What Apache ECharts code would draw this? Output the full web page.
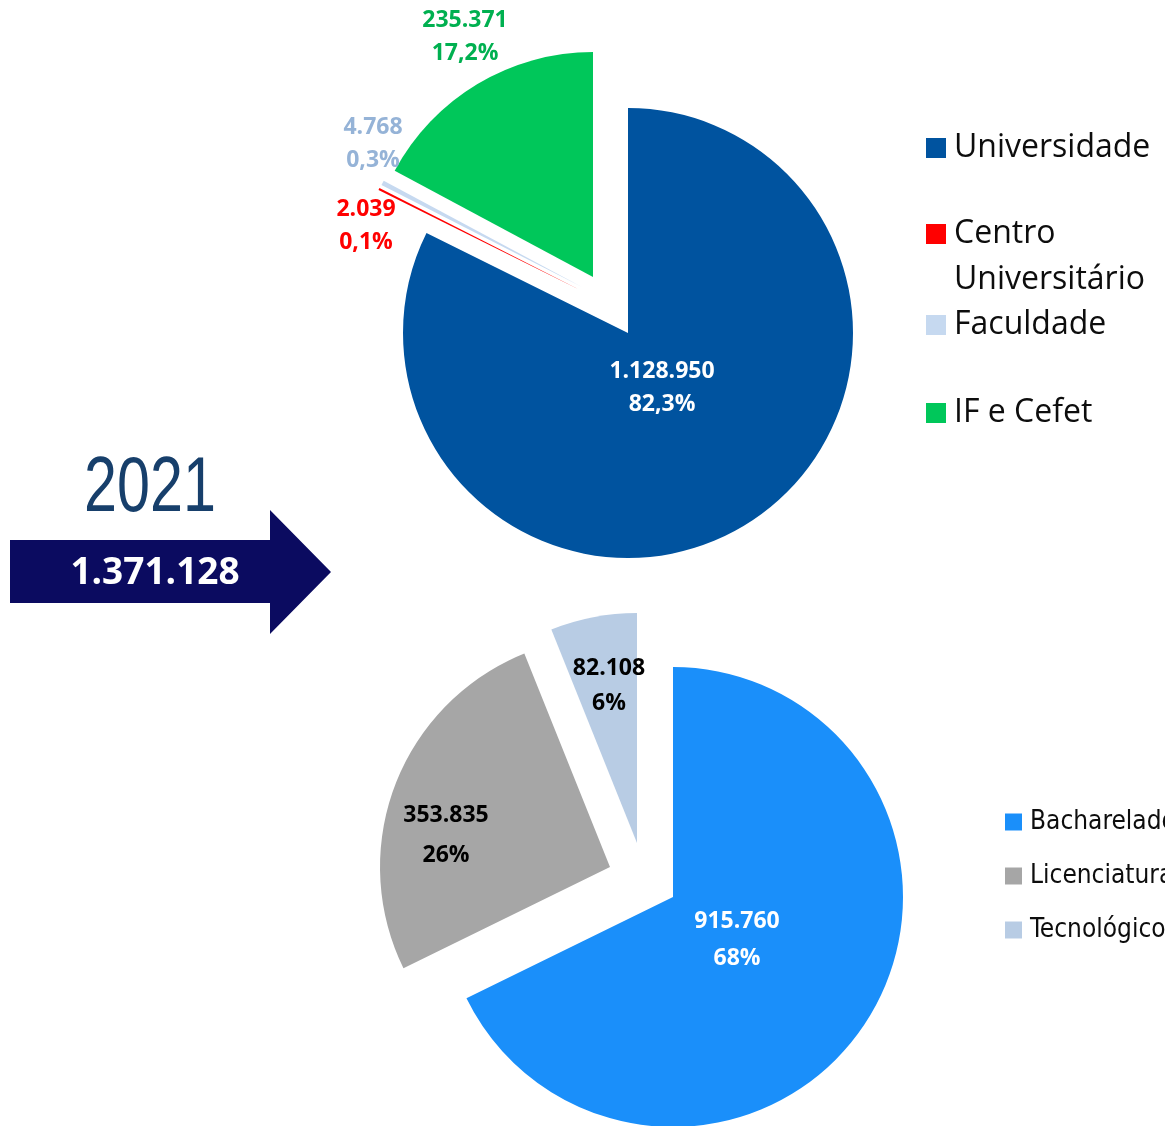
<!DOCTYPE html>
<html>
<head>
<meta charset="utf-8">
<script src="https://cdn.jsdelivr.net/npm/echarts@6/dist/echarts.min.js"></script>
<style>
html, body { margin: 0; padding: 0; background: #fff; }
#chart { width: 1165px; height: 1126px; }
</style>
</head>
<body>
<div id="chart"></div>
<script>
// tipo de instituição (pizza de cima)
var instNames = ['Universidade', 'Centro Universitário', 'Faculdade', 'IF e Cefet'];
var instValues = [1128950, 2039, 4768, 235371];
var instColors = ['#00539f', '#ff0000', '#c6d9f0', '#00c75a'];
var instLabelColors = ['#ffffff', '#ff0000', '#95b3d7', '#00b050'];

// grau acadêmico (pizza de baixo)
var grauNames = ['Bacharelado', 'Licenciatura', 'Tecnológico'];
var grauValues = [915760, 353835, 82108];
var grauColors = ['#1a8ffa', '#a6a6a6', '#b8cce4'];
var grauLabelColors = ['#ffffff', '#000000', '#000000'];

var ano = '2021';

function fmt(n) {
    return String(n).replace(/\B(?=(\d{3})+(?!\d))/g, '.');
}
var total = instValues.reduce(function (a, b) { return a + b; }, 0);

// each slice is drawn by its own series so it can be pulled out by its own offset
function slice(names, values, colors, labelColors, k, opt) {
    return {
        type: 'pie',
        center: opt.center,
        radius: opt.radius,
        startAngle: 90,
        clockwise: true,
        avoidLabelOverlap: false,
        silent: true,
        emphasis: { disabled: true },
        labelLine: { show: false },
        labelLayout: { x: opt.lx, y: opt.ly, align: 'center', verticalAlign: 'middle' },
        label: {
            position: 'inside',
            color: labelColors[k],
            fontFamily: 'Open Sans',
            fontWeight: 'bold',
            fontSize: 23,
            lineHeight: opt.lh,
            formatter: opt.formatter
        },
        data: names.map(function (n, i) {
            var vis = i === k;
            return {
                name: n,
                value: values[i],
                itemStyle: { color: vis ? colors[i] : 'transparent', borderWidth: 0 },
                label: { show: vis }
            };
        })
    };
}

var fmtInst = function (p) {
    return fmt(p.value) + '\n' + p.percent.toFixed(1).replace('.', ',') + '%';
};
var fmtGrau = function (p) {
    return fmt(p.value) + '\n' + Math.round(p.percent) + '%';
};

var series = [
    slice(instNames, instValues, instColors, instLabelColors, 0, { center: [628, 333], radius: 225, lx: 662, ly: 388, lh: 33, formatter: fmtInst }),
    slice(instNames, instValues, instColors, instLabelColors, 1, { center: [580, 290], radius: 225, lx: 366, ly: 226, lh: 33, formatter: fmtInst }),
    slice(instNames, instValues, instColors, instLabelColors, 2, { center: [582, 287], radius: 225, lx: 373, ly: 144, lh: 33, formatter: fmtInst }),
    slice(instNames, instValues, instColors, instLabelColors, 3, { center: [593, 277], radius: 225, lx: 465, ly: 37, lh: 33, formatter: fmtInst }),
    slice(grauNames, grauValues, grauColors, grauLabelColors, 0, { center: [673, 897], radius: 230, lx: 737, ly: 940, lh: 37, formatter: fmtGrau }),
    slice(grauNames, grauValues, grauColors, grauLabelColors, 1, { center: [610, 867], radius: 230, lx: 446, ly: 835, lh: 40, formatter: fmtGrau }),
    slice(grauNames, grauValues, grauColors, grauLabelColors, 2, { center: [637, 843], radius: 230, lx: 609, ly: 686, lh: 35, formatter: fmtGrau })
];

// top legend: one component per entry so the gaps match
var legTops = [132, 165, 309, 397];
var legends = instNames.map(function (n, i) {
    return {
        left: 926,
        top: legTops[i],
        padding: 0,
        itemWidth: 20,
        itemHeight: 20,
        icon: 'rect',
        selectedMode: false,
        data: [{ name: n, itemStyle: { color: instColors[i] } }],
        formatter: function (name) {
            return name === 'Centro Universitário' ? '\nCentro\nUniversitário' : name;
        },
        textStyle: {
            fontFamily: 'Open Sans',
            fontSize: 32,
            lineHeight: i === 1 ? 46 : 32,
            padding: [0, 0, 0, 3],
            color: '#0d0d0d'
        }
    };
});
legends.push({
    left: 1005,
    top: 807,
    padding: 0,
    orient: 'vertical',
    itemWidth: 17,
    itemHeight: 17,
    itemGap: 24,
    icon: 'rect',
    selectedMode: false,
    data: grauNames.map(function (n, i) {
        return { name: n, itemStyle: { color: grauColors[i] } };
    }),
    textStyle: {
        fontFamily: 'DejaVu Sans Condensed, sans-serif',
        fontSize: 26,
        lineHeight: 30,
        padding: [0, 0, 0, 3],
        color: '#0d0d0d'
    }
});

var myChart = echarts.init(document.getElementById('chart'));
myChart.setOption({
    backgroundColor: '#ffffff',
    animation: false,
    legend: legends,
    graphic: [
        {
            type: 'text',
            x: 150,
            y: 490,
            scaleX: 0.77,
            style: {
                text: ano,
                font: '77px "Liberation Sans", sans-serif',
                fill: '#173f6b',
                align: 'center',
                verticalAlign: 'middle'
            }
        },
        {
            type: 'polygon',
            shape: {
                points: [[10, 540], [270, 540], [270, 510], [331, 572], [270, 634], [270, 603], [10, 603]]
            },
            style: { fill: '#0b0b60' }
        },
        {
            type: 'text',
            x: 155,
            y: 573,
            style: {
                text: fmt(total),
                font: 'bold 37px "Open Sans", sans-serif',
                fill: '#ffffff',
                align: 'center',
                verticalAlign: 'middle'
            }
        }
    ],
    series: series
});
</script>
</body>
</html>
